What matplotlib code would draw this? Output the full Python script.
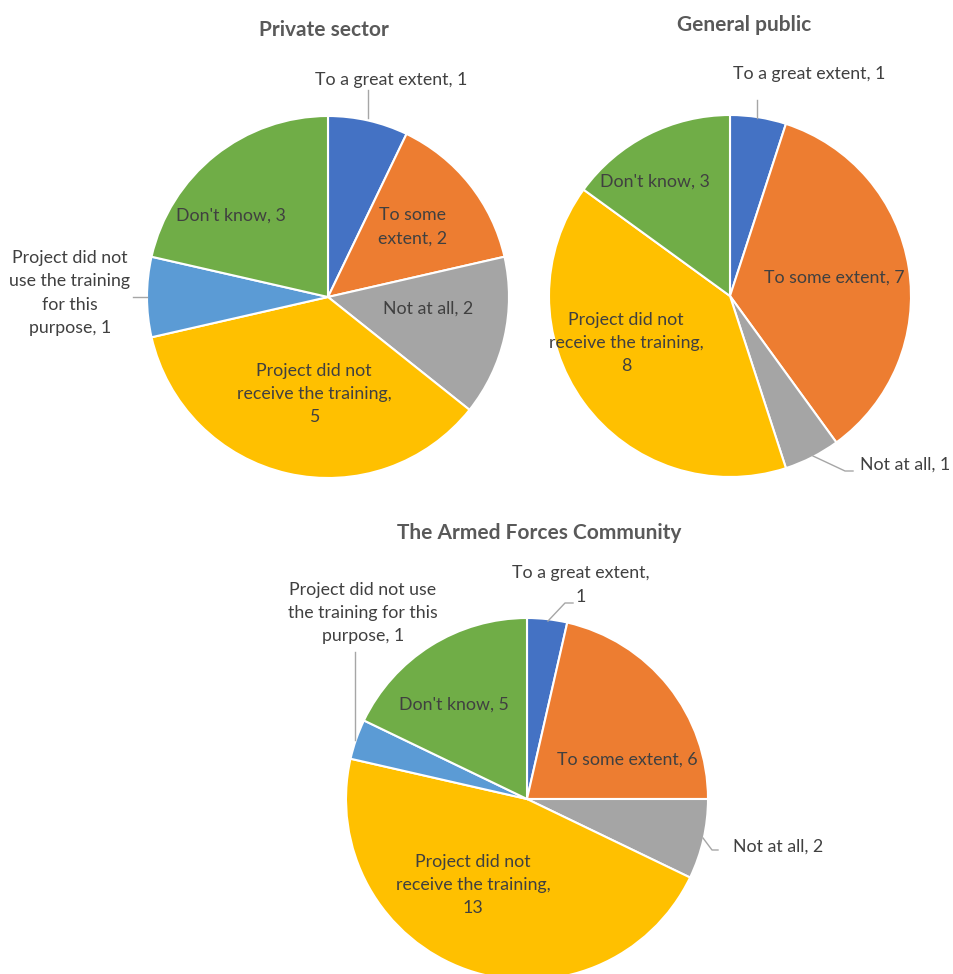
import numpy as np
import matplotlib.pyplot as plt

plt.rcParams['font.family'] = ['Lato', 'DejaVu Sans']

# answer categories, clockwise from 12 o'clock
categories = ['To a great extent', 'To some extent', 'Not at all',
              'Project did not receive the training',
              'Project did not use the training for this purpose',
              "Don't know"]
colors = ['#4472C4', '#ED7D31', '#A5A5A5', '#FFC000', '#5B9BD5', '#70AD47']

private_vals = [1, 2, 2, 5, 1, 3]
public_vals = [1, 7, 1, 8, 0, 3]
armed_vals = [1, 6, 2, 13, 1, 5]

titles = ['Private sector', 'General public', 'The Armed Forces Community']

# label wording (line breaks) per chart
private_fmt = ['To a great extent, {}', 'To some\nextent, {}', 'Not at all, {}',
               'Project did not\nreceive the training,\n{}',
               'Project did not\nuse the training\nfor this\npurpose, {}',
               "Don't know, {}"]
public_fmt = ['To a great extent, {}', 'To some extent, {}', 'Not at all, {}',
              'Project did not\nreceive the training,\n{}', '',
              "Don't know, {}"]
armed_fmt = ['To a great extent,\n{}', 'To some extent, {}', 'Not at all, {}',
             'Project did not\nreceive the training,\n{}',
             'Project did not use\nthe training for this\npurpose, {}',
             "Don't know, {}"]

W, H = 954, 974
fig = plt.figure(figsize=(W / 100, H / 100), dpi=100)
ax = fig.add_axes([0, 0, 1, 1])

R = 181
TXT = '#404040'
LINE = '#A6A6A6'

# layout: pie centre (pixels from top-left), title position, label offsets
charts = [
    dict(vals=private_vals, fmt=private_fmt, title=titles[0], c=(328, 297), t=(324, 30),
         lab=[(63, -217), (85, -70), (100, 12), (-14, 97), (-258, -4), (-97, -81)],
         lead={0: [(368, 90), (368, 118)], 4: [(133, 297), (147, 297)]}),
    dict(vals=public_vals, fmt=public_fmt, title=titles[1], c=(730, 296), t=(744, 25),
         lab=[(79, -222), (104, -18), (175, 169), (-104, 47), (0, 0), (-75, -114)],
         lead={0: [(757, 100), (757, 118)], 2: [(813, 456), (845, 471), (853, 471)]}),
    dict(vals=armed_vals, fmt=armed_fmt, title=titles[2], c=(527, 799), t=(539, 533),
         lab=[(54, -214), (100, -39), (251, 48), (-54, 86), (-164, -186), (-73, -94)],
         lead={0: [(548, 621), (565, 603), (573, 603)], 4: [(355, 652), (355, 740)],
               2: [(703, 838), (712, 850), (718, 850)]}),
]

for ch in charts:
    vals = np.array(ch['vals'])
    keep = vals > 0
    cx, cy = ch['c'][0], H - ch['c'][1]
    ax.pie(vals[keep], colors=[c for c, k in zip(colors, keep) if k],
           startangle=90, counterclock=False, center=(cx, cy), radius=R,
           wedgeprops=dict(edgecolor='white', linewidth=1.5))
    ax.text(ch['t'][0], H - ch['t'][1], ch['title'], ha='center', va='center',
            fontsize=15, fontweight='bold', color='#595959')
    for i, v in enumerate(vals):
        if v == 0:
            continue
        dx, dy = ch['lab'][i]
        ax.text(cx + dx, cy - dy, ch['fmt'][i].format(v), ha='center', va='center',
                fontsize=12.8, color=TXT, linespacing=1.55)
    for pts in ch['lead'].values():
        xs = [p[0] for p in pts]
        ys = [H - p[1] for p in pts]
        ax.plot(xs, ys, color=LINE, lw=1)

ax.set_xlim(0, W)
ax.set_ylim(0, H)
ax.set_aspect('auto')
ax.axis('off')

fig.savefig('out.png', dpi=100, facecolor='white')
